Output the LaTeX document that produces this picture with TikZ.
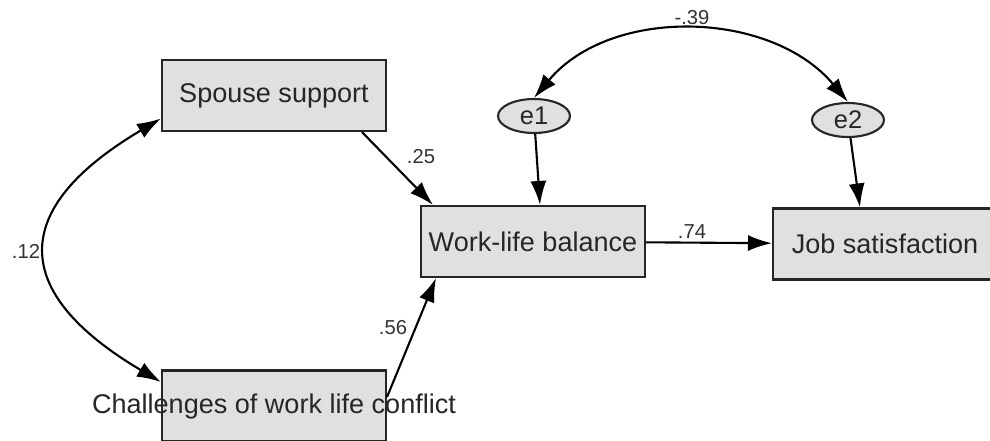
\documentclass[tikz,border=0pt]{standalone}
\usepackage{fontspec}
\setmainfont{Liberation Sans}
\usetikzlibrary{arrows.meta,shapes.geometric}
\begin{document}
\begin{tikzpicture}[x=0.02cm,y=-0.02cm,>={Latex[length=0.48cm,width=0.32cm]},
  box/.style={draw=black!85,line width=1.2pt,fill=black!12,minimum width=4.48cm,minimum height=1.42cm,
    font=\fontsize{15.4}{18}\selectfont,text=black!85},
  err/.style={ellipse,draw=black!85,line width=1.2pt,fill=black!12,minimum width=1.44cm,minimum height=0.68cm,
    inner sep=0pt,font=\fontsize{14.5}{16}\selectfont,text=black!85},
  lab/.style={font=\fontsize{11.5}{13}\selectfont,text=black!80},
  link/.style={line width=1.2pt}]
  \useasboundingbox (0,0) rectangle (990,440);
  \clip (0,0) rectangle (990,440);
  % observed variables
  \node[box] (spouse) at (274,95.5) {Spouse support};
  \node[box] (wlb) at (533,241.5) {Work-life balance};
  \node[box] (js) at (885,244) {Job satisfaction};
  \node[box] (chal) at (274,406) {\makebox[0pt]{Challenges of work life conflict}};
  % errors
  \node[err] (e1) at (534,116) {e1};
  \node[err] (e2) at (848,120) {e2};
  % paths
  \draw[->,link] ([xshift=1.76cm]spouse.south) -- ([xshift=-2cm]wlb.north);
  \draw[->,link] ([yshift=0.18cm]chal.east) -- ([xshift=-1.94cm]wlb.south);
  \draw[->,link] (e1) -- ([xshift=0.14cm]wlb.north);
  \draw[->,link] (e2) -- ([xshift=-0.5cm]js.north);
  \draw[->,link] (wlb) -- (js);
  % covariances
  \draw[<->,link] ([yshift=0.48cm]chal.west) .. controls +(-152,-90) and +(-152,90) .. ([yshift=-0.46cm]spouse.west);
  \draw[<->,link] (e1.north) .. controls +(77,-92) and +(-77,-92) .. (e2.north);
  % estimates
  \node[lab] (c12) at (26,251) {.12};
  \node[lab] (c39) at (692,18) {-.39};
  \node[lab] (p25) at (421,157) {.25};
  \node[lab] (p56) at (393,328) {.56};
  \node[lab] (p74) at (692,232) {.74};
\end{tikzpicture}
\end{document}
